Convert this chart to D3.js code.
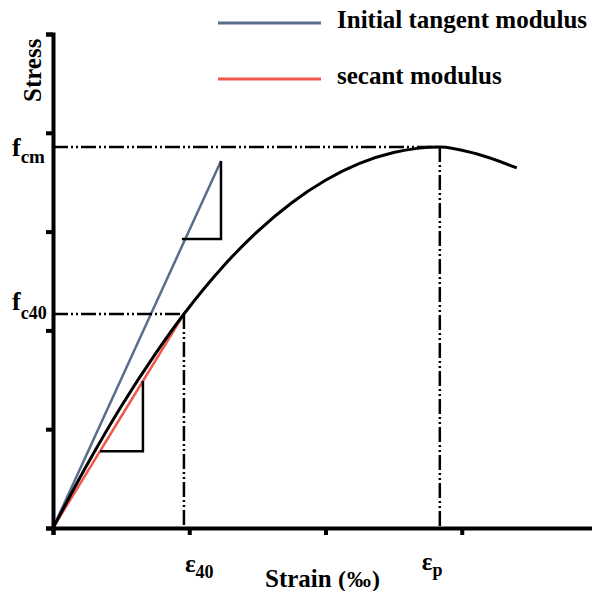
<!DOCTYPE html>
<meta charset="utf-8">
<style>
  body { margin: 0; background: #fff; }
  svg text { font-family: "Liberation Serif", "Times New Roman", serif; font-weight: bold; fill: #000; }
  .axis path, .axis line { fill: none; stroke: #000; stroke-width: 4; }
  .ref { fill: none; stroke: #000; stroke-width: 2.5; stroke-dasharray: 15,3,2,3,2,3; }
</style>
<body>
<script src="https://cdn.jsdelivr.net/npm/d3@7"></script>
<script>
// stress-strain curve (strain, stress in axis units)
var strain = [0, 0.25, 0.5, 0.75, 0.961, 1.25, 1.5, 1.75, 2.0, 2.25, 2.5, 2.839, 3.1, 3.404];
var stress = [0, 0.64, 1.23, 1.76, 2.166, 2.65, 3.0, 3.29, 3.52, 3.69, 3.80, 3.856, 3.79, 3.644];

// key points
var eps40 = 0.961, fc40 = 2.166;
var epsP = 2.839, fcm = 3.856;
var tangentEnd = [1.233, 3.715];
var tangentTri = [0.946, 2.925];   // corner x start, horizontal leg level
var secantTri = [0.345, 0.660];    // x of the two corners on the secant line

var xTicks = [0, 1, 2, 3, 4];
var yTicks = [0, 1, 2, 3, 4, 5];

var legendNames = ["Initial tangent modulus", "secant modulus"];
var legendColors = ["#5b6d8c", "#f2574c"];

var width = 592, height = 591;

var x = d3.scaleLinear().domain([0, 4]).range([53, 598]);
var y = d3.scaleLinear().domain([0, 5]).range([528, 34]);

var svg = d3.select("body").append("svg")
    .attr("width", width)
    .attr("height", height);

var pts = strain.map(function(d, i) { return [d, stress[i]]; });
var line = d3.line()
    .x(function(d) { return x(d[0]); })
    .y(function(d) { return y(d[1]); });

// tangent modulus line
svg.append("path")
    .attr("d", line([[0, 0], tangentEnd]))
    .attr("stroke", legendColors[0])
    .attr("stroke-width", 2.5)
    .attr("fill", "none");

// secant modulus line
svg.append("path")
    .attr("d", line([[0, 0], [eps40, fc40]]))
    .attr("stroke", legendColors[1])
    .attr("stroke-width", 2.5)
    .attr("fill", "none");

// the curve
svg.append("path")
    .attr("d", line.curve(d3.curveMonotoneX)(pts))
    .attr("stroke", "#000")
    .attr("stroke-width", 3)
    .attr("fill", "none");
line.curve(d3.curveLinear);

// slope triangles
svg.append("path")
    .attr("d", line([[tangentTri[0], tangentTri[1]], [tangentEnd[0], tangentTri[1]], tangentEnd]))
    .attr("stroke", "#000").attr("stroke-width", 2.5).attr("fill", "none");

var kS = fc40 / eps40;
svg.append("path")
    .attr("d", line([[secantTri[0], secantTri[0] * kS], [secantTri[1], secantTri[0] * kS], [secantTri[1], secantTri[1] * kS]]))
    .attr("stroke", "#000").attr("stroke-width", 2.5).attr("fill", "none");

// dash-dot reference lines
svg.append("path").attr("class", "ref").attr("d", line([[0, fcm], [epsP, fcm]]));
svg.append("path").attr("class", "ref").attr("d", line([[epsP, fcm], [epsP, 0]]));
svg.append("path").attr("class", "ref").attr("d", line([[0, fc40], [eps40, fc40]]));
svg.append("path").attr("class", "ref").attr("d", line([[eps40, fc40], [eps40, 0]]));

// axes
svg.append("g")
    .attr("class", "axis")
    .attr("transform", "translate(0," + y(0) + ")")
    .call(d3.axisBottom(x).tickValues(xTicks).tickSize(7).tickFormat(""));

svg.append("g")
    .attr("class", "axis")
    .attr("transform", "translate(" + x(0) + ",0)")
    .call(d3.axisLeft(y).tickValues(yTicks).tickSize(7).tickFormat(""));

// axis titles
svg.append("text")
    .attr("transform", "translate(41,102) rotate(-90)")
    .style("font-size", "25px")
    .text("Stress");

svg.append("text")
    .attr("x", 265).attr("y", 587)
    .style("font-size", "25px")
    .text("Strain ")
    .append("tspan").style("font-size", "24px").style("letter-spacing", "1px").text("(‰)");

// value labels with subscripts
function subLabel(px, py, main, sub, mainSize, subSize, dy) {
  var t = svg.append("text").attr("x", px).attr("y", py).style("font-size", mainSize + "px");
  t.append("tspan").text(main);
  t.append("tspan").attr("dy", dy).style("font-size", subSize + "px").text(sub);
}
subLabel(12, 156, "f", "cm", 26, 19, 7);
subLabel(12, 310, "f", "c40", 26, 18, 9);
subLabel(x(eps40) + 1, 572, "ε", "40", 25, 18, 6);
subLabel(x(epsP) - 18, 570, "ε", "p", 25, 18, 6);

// legend
legendNames.forEach(function(name, i) {
  var ly = 23 + i * 56;
  svg.append("line")
      .attr("x1", 218).attr("x2", 321)
      .attr("y1", ly).attr("y2", ly)
      .attr("stroke", legendColors[i])
      .attr("stroke-width", 3);
  svg.append("text")
      .attr("x", 337).attr("y", ly + 5)
      .style("font-size", "25px")
      .text(name);
});
</script>
